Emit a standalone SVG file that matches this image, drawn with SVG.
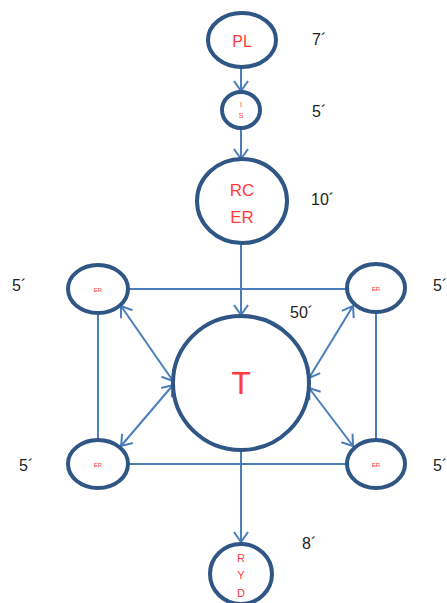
<svg xmlns="http://www.w3.org/2000/svg" width="447" height="603" viewBox="0 0 447 603">
<defs>
<marker id="arr" viewBox="0 0 12 16" refX="11" refY="8" markerWidth="12" markerHeight="16" markerUnits="userSpaceOnUse" orient="auto-start-reverse">
<path d="M1,1 L11,8 L1,15" fill="none" stroke="#4a7ebb" stroke-width="2"/>
</marker>
</defs>
<style>
.node{fill:#fff;stroke:#2f5685;stroke-width:4}
.lbl{fill:#ff3b3b;font-family:"Liberation Sans",Arial,sans-serif;text-anchor:middle}
.conn{stroke:#4a7ebb;stroke-width:2;fill:none}
.note{fill:#222;font-family:"Liberation Sans",Arial,sans-serif;font-size:16px}
</style>
<rect width="447" height="603" fill="#fff"/>
<g id="connectors">
<line class="conn" x1="241" y1="68" x2="241" y2="91" marker-end="url(#arr)"/>
<line class="conn" x1="241" y1="129" x2="241" y2="159" marker-end="url(#arr)"/>
<line class="conn" x1="241" y1="244" x2="241" y2="315" marker-end="url(#arr)"/>
<line class="conn" x1="241" y1="451" x2="241" y2="542" marker-end="url(#arr)"/>
<line class="conn" x1="128" y1="289" x2="347" y2="289"/>
<line class="conn" x1="128" y1="464" x2="347" y2="464"/>
<line class="conn" x1="98" y1="313" x2="98" y2="440"/>
<line class="conn" x1="376" y1="313" x2="376" y2="440"/>
<line class="conn" x1="121" y1="306" x2="173" y2="381" marker-start="url(#arr)" marker-end="url(#arr)"/>
<line class="conn" x1="121" y1="446" x2="173" y2="385" marker-start="url(#arr)" marker-end="url(#arr)"/>
<line class="conn" x1="353" y1="306" x2="309" y2="378" marker-start="url(#arr)" marker-end="url(#arr)"/>
<line class="conn" x1="353" y1="446" x2="309" y2="388" marker-start="url(#arr)" marker-end="url(#arr)"/>
</g>
<g id="PL">
<ellipse class="node" cx="242" cy="40" rx="34" ry="27"/>
<text class="lbl" x="242" y="47" font-size="16">PL</text>
</g>
<g id="IS">
<ellipse class="node" cx="241" cy="110" rx="19" ry="18"/>
<text class="lbl" x="241" y="107" font-size="7">I</text>
<text class="lbl" x="241" y="118" font-size="7">S</text>
</g>
<g id="RCER">
<ellipse class="node" cx="242" cy="201" rx="45" ry="42"/>
<text class="lbl" x="242" y="196" font-size="17">RC</text>
<text class="lbl" x="242" y="223" font-size="17">ER</text>
</g>
<g id="T">
<ellipse class="node" cx="241" cy="383" rx="68" ry="67"/>
<text class="lbl" x="241" y="394" font-size="32">T</text>
</g>
<g id="ER_TL">
<ellipse class="node" cx="98" cy="289" rx="30" ry="24"/>
<text class="lbl" x="98" y="292" font-size="6">ER</text>
</g>
<g id="ER_TR">
<ellipse class="node" cx="376" cy="288" rx="29" ry="24"/>
<text class="lbl" x="376" y="291" font-size="6">ER</text>
</g>
<g id="ER_BL">
<ellipse class="node" cx="98" cy="464" rx="30" ry="24"/>
<text class="lbl" x="98" y="467" font-size="6">ER</text>
</g>
<g id="ER_BR">
<ellipse class="node" cx="376" cy="464" rx="29" ry="24"/>
<text class="lbl" x="376" y="467" font-size="6">ER</text>
</g>
<g id="RYD">
<ellipse class="node" cx="241" cy="574" rx="31" ry="30"/>
<text class="lbl" x="241" y="562" font-size="11">R</text>
<text class="lbl" x="241" y="579" font-size="11">Y</text>
<text class="lbl" x="241" y="597" font-size="11">D</text>
</g>
<g id="notes">
<text class="note" x="312" y="45">7´</text>
<text class="note" x="312" y="117">5´</text>
<text class="note" x="311" y="205">10´</text>
<text class="note" x="290" y="318">50´</text>
<text class="note" x="12" y="291">5´</text>
<text class="note" x="433" y="291">5´</text>
<text class="note" x="19" y="471">5´</text>
<text class="note" x="433" y="471">5´</text>
<text class="note" x="302" y="549">8´</text>
</g>
</svg>
